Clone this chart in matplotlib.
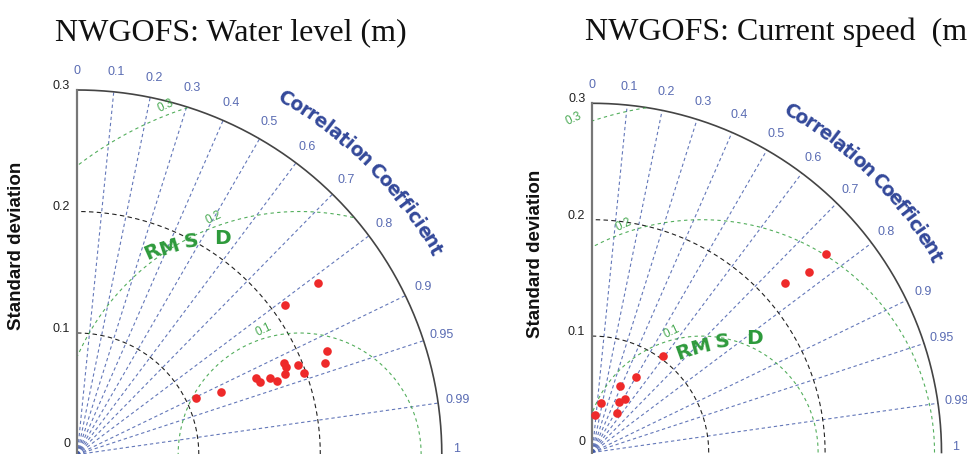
import numpy as np
import matplotlib.pyplot as plt
from matplotlib.font_manager import FontProperties
from matplotlib.textpath import TextToPath

W, H = 967, 454

# ---- data ----
titles = ['NWGOFS: Water level (m)', 'NWGOFS: Current speed  (m']
ref_std = [0.183, 0.094]

wl_std = [0.243, 0.211, 0.222, 0.217, 0.186, 0.186, 0.196, 0.183,
          0.198, 0.160, 0.162, 0.171, 0.175, 0.129, 0.108]
wl_corr = [0.814, 0.812, 0.924, 0.938, 0.914, 0.922, 0.927, 0.933,
           0.941, 0.920, 0.930, 0.929, 0.938, 0.918, 0.901]

cs_std = [0.264, 0.242, 0.220, 0.103, 0.075, 0.062, 0.054, 0.049,
          0.043, 0.040, 0.032]
cs_corr = [0.762, 0.769, 0.751, 0.593, 0.501, 0.385, 0.517, 0.466,
           0.168, 0.538, 0.073]

std_ticks = [0, 0.1, 0.2, 0.3]
corr_ticks = [0, 0.1, 0.2, 0.3, 0.4, 0.5, 0.6, 0.7, 0.8, 0.9, 0.95, 0.99, 1]
corr_labels = ['0', '0.1', '0.2', '0.3', '0.4', '0.5', '0.6', '0.7', '0.8',
               '0.9', '0.95', '0.99', '1']
rms_levels = [0.1, 0.2, 0.3]
rms_labels = ['0.1', '0.2', '0.3']

# panel geometry in pixels: left edge, right edge, origin x, origin y, px per unit
panels = [(0, 490, 77.3, 454.5, 1215.0), (490, 967, 592.3, 452.5, 1164.0)]
title_x = [55, 585]
ylabel_x = [17, 536]
ylabel_y = [246, 254]
# RMSD word: anchor of the "R" (data units), offsets of letters in px, rotations
rmsd_anchor = [(0.0612, 0.1669), (0.0782, 0.0866)]
rmsd_chars = ['R', 'M', 'S', 'D']
rmsd_off = [(0, 0), (17.5, 4.3), (39, 10), (71, 13)]
rmsd_rot = [[24, 18, 8, 0], [20, 14, 6, 0]]
rms_lab_ang = [[106, 110, 111], [104, 109, 111]]

SMAX = 0.3
blue = '#3d56a8'
blue_lab = '#5a6cb3'
green = '#35a040'
red = '#ee2a2a'

plt.rcParams['font.family'] = ['Liberation Sans', 'DejaVu Sans']
fig = plt.figure(figsize=(W / 100, H / 100), dpi=100)

t2p = TextToPath()
cc_prop = FontProperties(family='DejaVu Sans', weight='bold', size=13.5)


def arc_text(ax, s, r, a0, a1, prop, color):
    widths = []
    for ch in s:
        if ch == ' ':
            widths.append(0.3 * prop.get_size_in_points())
        else:
            widths.append(t2p.get_text_width_height_descent(ch, prop, ismath=False)[0] + 1.0)
    widths = np.array(widths)
    centers = np.cumsum(widths) - widths / 2
    frac = (centers - centers[0]) / (centers[-1] - centers[0])
    angs = a0 + (a1 - a0) * frac
    for ch, a in zip(s, angs):
        if ch == ' ':
            continue
        t = np.radians(a)
        ax.text(r * np.cos(t), r * np.sin(t), ch, rotation=a - 90,
                rotation_mode='anchor', ha='center', va='center',
                fontproperties=prop, color=color)


datasets = [(wl_std, wl_corr), (cs_std, cs_corr)]

for i, (x0, x1, ox, oy, sc) in enumerate(panels):
    ax = fig.add_axes([x0 / W, 0, (x1 - x0) / W, 1])
    ax.set_xlim((x0 - ox) / sc, (x1 - ox) / sc)
    ax.set_ylim((oy - H) / sc, oy / sc)
    ax.axis('off')

    th = np.linspace(0, np.pi / 2, 300)
    # correlation rays
    for c in corr_ticks[1:-1]:
        a = np.arccos(c)
        ax.plot([0, SMAX * np.cos(a)], [0, SMAX * np.sin(a)], color=blue,
                lw=0.8, ls=(0, (3, 2.5)), alpha=0.8)
    # std arcs
    for s in std_ticks[1:-1]:
        ax.plot(s * np.cos(th), s * np.sin(th), color='#222222', lw=0.8,
                ls=(0, (4, 3)))
    ax.plot(SMAX * np.cos(th), SMAX * np.sin(th), color='#444444', lw=1.2)
    ax.plot([0, 0], [0, SMAX], color='#777777', lw=1.6)

    # RMSD circles
    r0 = ref_std[i]
    phi = np.linspace(0, np.pi, 600)
    for k, rm in enumerate(rms_levels):
        xs = r0 + rm * np.cos(phi)
        ys = rm * np.sin(phi)
        bad = (np.hypot(xs, ys) > SMAX) | (xs < 0)
        xs = np.where(bad, np.nan, xs)
        ys = np.where(bad, np.nan, ys)
        ax.plot(xs, ys, color=green, lw=0.8, ls=(0, (3, 3)), alpha=0.85)
        a = np.radians(rms_lab_ang[i][k])
        ax.text(r0 + (rm + 0.007) * np.cos(a), (rm + 0.007) * np.sin(a),
                rms_labels[k], color=green, fontsize=8.5, rotation=25,
                ha='center', va='center', alpha=0.9)

    # std tick labels
    for s in std_ticks:
        ax.text(-0.006, s + 0.0035, ('%g' % s), ha='right',
                va='bottom' if s == 0 else 'center', fontsize=9,
                color='#222222')

    # correlation labels
    for c, lab in zip(corr_ticks, corr_labels):
        a = np.arccos(c)
        if c == 1:
            ax.text(0.312, 0.0, lab, ha='center', va='bottom', fontsize=9,
                    color=blue_lab)
        else:
            ax.text(0.316 * np.cos(a), 0.316 * np.sin(a), lab, ha='center',
                    va='center', fontsize=9, color=blue_lab)

    arc_text(ax, 'Correlation Coefficient', 0.339, 59.8, 29.7, cc_prop, '#34499a')

    # RMSD word
    for ch, (dx, dy), rot in zip(rmsd_chars, rmsd_off, rmsd_rot[i]):
        ax.annotate(ch, xy=rmsd_anchor[i], xytext=(dx * 0.72, dy * 0.72),
                    textcoords='offset points', ha='center', va='center',
                    fontsize=14.5, fontweight='bold', color='#2e9a3c',
                    family='DejaVu Sans', rotation=rot)

    # data points
    st, cr = datasets[i]
    st = np.array(st)
    a = np.arccos(np.array(cr))
    ax.plot(st * np.cos(a), st * np.sin(a), 'o', color=red, ms=6.2, mec='none')

    fig.text(ylabel_x[i] / W, 1 - ylabel_y[i] / H, 'Standard deviation',
             rotation=90, ha='center', va='center', fontsize=13.5,
             fontweight='bold', color='#111111')
    fig.text(title_x[i] / W, 1 - 40 / H, titles[i], ha='left', va='baseline',
             fontsize=23, family='Liberation Serif', color='#111111')

fig.savefig('out.png', dpi=100)
